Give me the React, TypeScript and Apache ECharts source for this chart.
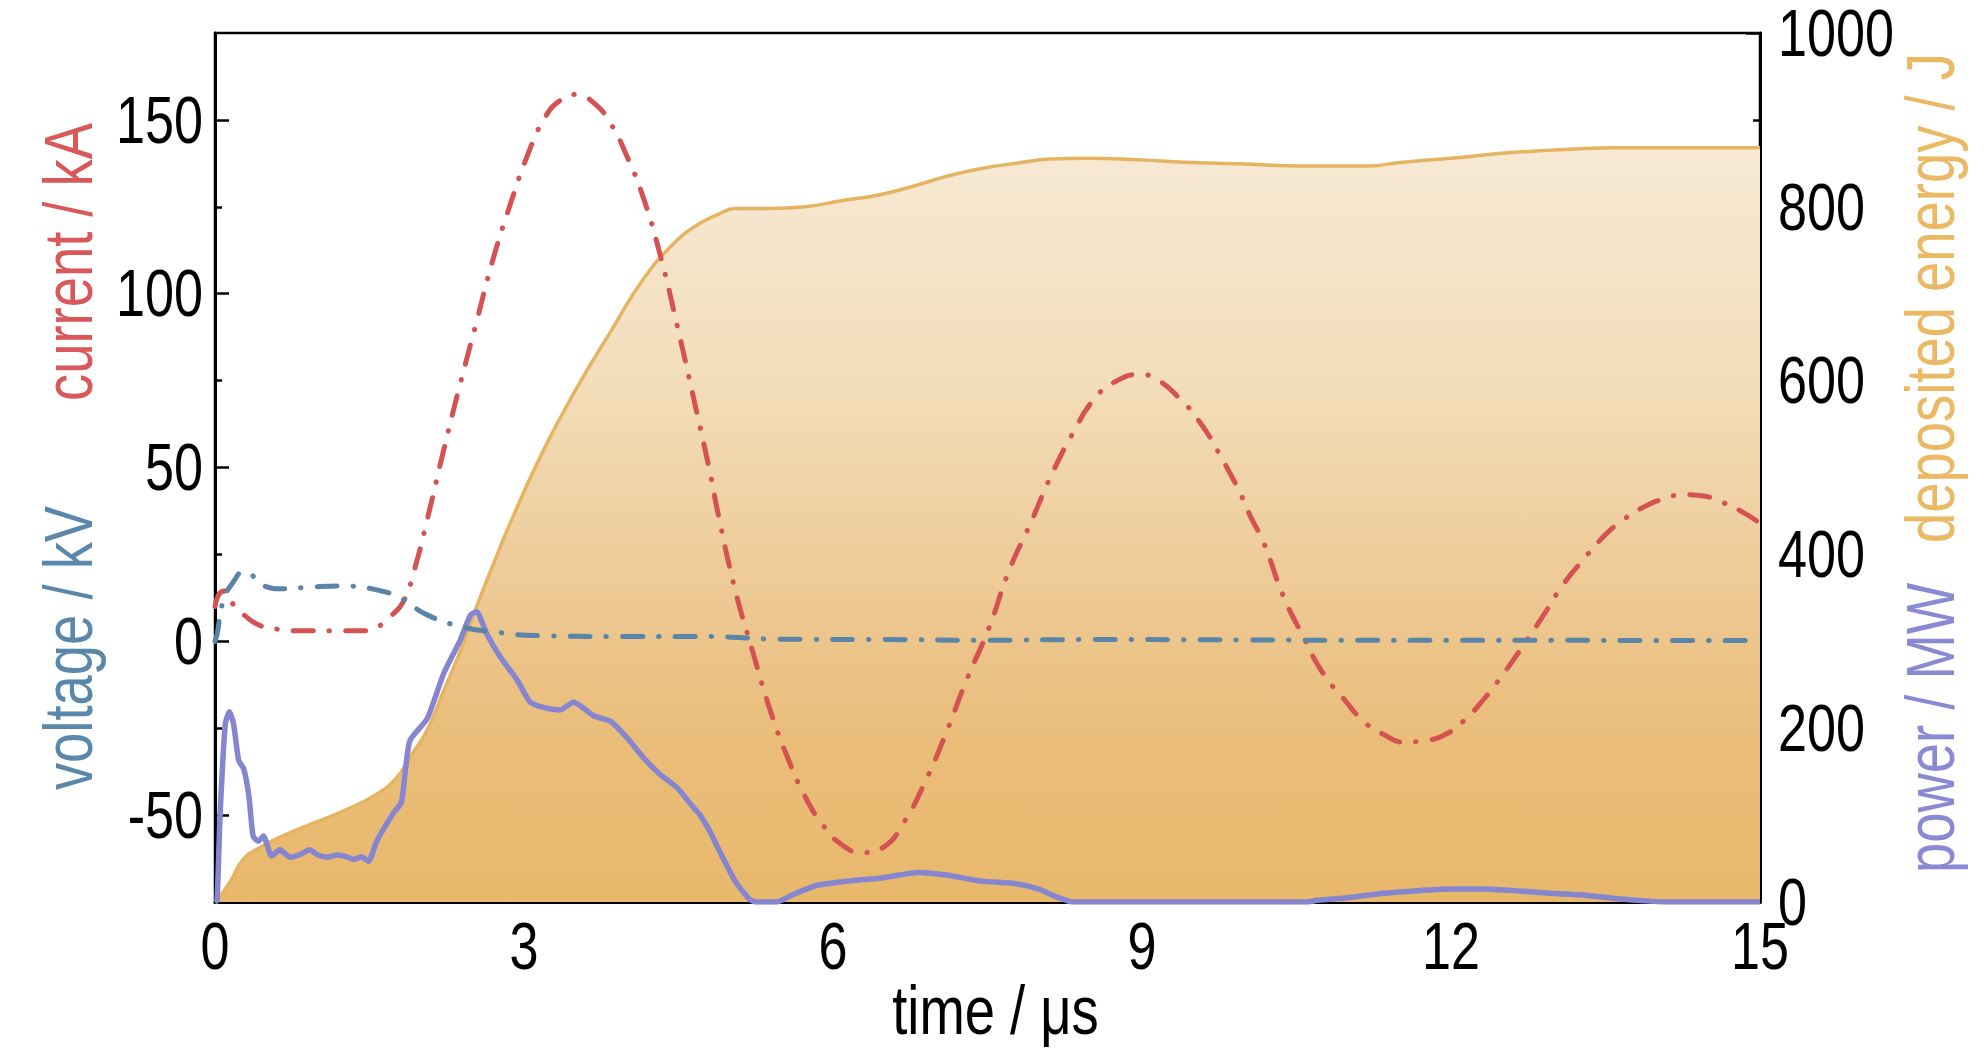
import React, { useEffect, useRef } from "react";
import * as echarts from "echarts";

// time / µs, current / kA
const currentData: [number, number][] = [
  [0, 10], [0.05, 14], [0.1, 14.5], [0.18, 10.5], [0.28, 7.6], [0.44, 4.5], [0.6, 3.5],
  [0.92, 3], [1.25, 3], [1.49, 3], [1.57, 3.9], [1.7, 7], [1.83, 11.5], [1.93, 20],
  [2.06, 35], [2.22, 55], [2.38, 74], [2.54, 92], [2.7, 110], [2.87, 126], [3.03, 139.5],
  [3.19, 150], [3.35, 155.6], [3.51, 157.3], [3.68, 154.8], [3.84, 149], [4.0, 139.5],
  [4.16, 127.5], [4.32, 111.4], [4.49, 90.5], [4.65, 69.5], [4.81, 48], [4.88, 37.3],
  [5.05, 14.8], [5.22, -2.9], [5.39, -19.8], [5.56, -33.5], [5.73, -44.7], [5.9, -52.8],
  [6.08, -58.4], [6.28, -60.8], [6.49, -59.2], [6.69, -52], [6.89, -40.7], [7.1, -26.2],
  [7.3, -10.9], [7.51, 3.5], [7.71, 20.4], [7.92, 34.1], [8.12, 47.8], [8.33, 59.9],
  [8.53, 69.5], [8.74, 74.7], [8.98, 76.8], [9.15, 75.2], [9.35, 70.3], [9.56, 63.1],
  [9.76, 53.4], [9.96, 42.2], [10.06, 35.5], [10.18, 28.5], [10.37, 13.2], [10.57, 1.1],
  [10.76, -9.3], [10.96, -16.6], [11.15, -23], [11.34, -26.7], [11.54, -29], [11.73, -28.6],
  [11.93, -27], [12.12, -23], [12.32, -16.6], [12.51, -9.3], [12.7, -1.3], [12.9, 7.6],
  [13.09, 16.4], [13.29, 23.7], [13.48, 30.1], [13.67, 34.9], [13.87, 38.6], [14.06, 40.9],
  [14.26, 42.2], [14.45, 41.8], [14.65, 39.8], [14.84, 37], [15, 34]
];

// time / µs, voltage / kV
const voltageData: [number, number][] = [
  [0, 0], [0.02, 2], [0.08, 11.6], [0.18, 17.2], [0.28, 20], [0.36, 19], [0.44, 16.4],
  [0.67, 15.1], [0.92, 15.6], [1.25, 15.9], [1.57, 14.8], [1.8, 12.4], [2.06, 7.6],
  [2.38, 4.3], [2.7, 2.7], [3.19, 1.6], [3.84, 1.4], [4.74, 1.4], [5.5, 0.6], [6.5, 0.5],
  [7.5, 0.3], [8.5, 0.5], [10, 0.4], [11, 0.3], [12, 0.3], [13, 0.3], [14, 0.2], [15, 0.2]
];

// time / µs, power / MW
const powerData: [number, number][] = [
  [0, 0], [0.02, 2], [0.05, 102], [0.1, 205], [0.14, 219], [0.18, 205], [0.23, 163],
  [0.28, 153], [0.33, 121], [0.37, 76], [0.42, 70], [0.47, 76], [0.55, 53], [0.63, 60],
  [0.73, 51.5], [0.83, 55], [0.92, 60], [1.0, 54], [1.09, 51.5], [1.18, 54], [1.25, 53],
  [1.35, 49], [1.42, 52], [1.49, 47], [1.57, 70], [1.73, 102], [1.81, 115], [1.89, 185],
  [2.06, 211], [2.22, 263], [2.38, 301], [2.48, 330], [2.54, 334], [2.64, 308], [2.77, 282],
  [2.93, 256], [3.06, 230], [3.19, 224], [3.35, 221], [3.48, 230], [3.68, 214], [3.84, 208],
  [4.0, 189], [4.16, 166], [4.32, 147], [4.49, 131], [4.65, 108], [4.71, 100], [4.81, 80],
  [4.88, 63], [5.05, 24], [5.19, 3], [5.25, 0], [5.45, 0], [5.6, 8], [5.84, 19], [6.14, 24],
  [6.49, 28], [6.83, 34], [7.1, 31], [7.44, 24], [7.78, 21], [7.99, 15], [8.19, 5], [8.33, 0],
  [10.6, 0], [10.7, 2], [11.0, 5], [11.35, 10], [11.67, 13], [12.0, 15], [12.31, 15],
  [12.63, 13], [12.96, 10], [13.28, 8], [13.6, 4], [13.93, 1], [14.1, 0], [15, 0]
];

// time / µs, deposited energy / J
const energyData: [number, number][] = [
  [0, 0], [0.02, 2], [0.15, 24], [0.28, 50], [0.44, 63], [0.6, 73], [0.92, 89], [1.25, 105],
  [1.57, 124], [1.77, 144], [1.89, 166], [2.06, 198], [2.22, 243], [2.38, 288], [2.54, 340],
  [2.7, 388], [2.87, 437], [3.19, 520], [3.51, 591], [3.84, 656], [4.16, 717], [4.49, 762],
  [4.71, 781], [4.88, 791], [5.05, 798], [5.39, 798], [5.73, 800], [6.08, 807], [6.42, 813],
  [6.76, 823], [7.1, 835], [7.44, 844], [7.78, 850], [8.12, 855], [8.46, 856], [8.98, 854],
  [9.49, 851], [10.06, 849], [10.54, 847], [11.19, 847], [11.51, 851], [12.0, 856],
  [12.65, 863], [13.3, 867], [13.6, 868], [15, 868]
];

const timeRange = [0, 15];
const leftRange = [-75, 175];
const rightRange = [0, 1000];
const timeTicks = [0, 3, 6, 9, 12, 15];
const leftMajorTicks = [-50, 0, 50, 100, 150];
const leftMinorTicks = [-25, 25, 75, 125];
const rightTicks = [0, 200, 400, 600, 800, 1000];

const FONT = "'Liberation Sans', Arial, sans-serif";
const NARROW = 0.79;

export default function App() {
  const ref = useRef<HTMLDivElement>(null);
  useEffect(() => {
    if (!ref.current) return;
    const chart = echarts.init(ref.current, null, { renderer: "svg" });
    const axisLine = { show: true, onZero: false, lineStyle: { color: "#000", width: 3 } };
    const tickStyle = { color: "#000", width: 2.5 };
    const dash = [20, 16, 0.5, 16];
    chart.setOption({
      animation: false,
      backgroundColor: "#fff",
      grid: {
        left: 215, right: 224, top: 33, bottom: 161,
        show: true, borderColor: "#000", borderWidth: 2.5, backgroundColor: "transparent"
      },
      xAxis: {
        type: "value", min: timeRange[0], max: timeRange[1], interval: 3,
        axisLine,
        axisTick: { inside: true, length: 14, lineStyle: tickStyle },
        minorTick: { show: true, splitNumber: 2, length: 7, lineStyle: tickStyle },
        axisLabel: { show: false },
        splitLine: { show: false }
      },
      yAxis: [
        {
          type: "value", position: "left", min: leftRange[0], max: leftRange[1], interval: 25,
          axisLine,
          axisTick: { inside: true, length: 14, lineStyle: tickStyle, customValues: leftMajorTicks },
          axisLabel: { show: false },
          splitLine: { show: false }
        },
        {
          type: "value", position: "right", min: rightRange[0], max: rightRange[1], interval: 200,
          axisLine,
          axisTick: { inside: true, length: 14, lineStyle: tickStyle },
          minorTick: { show: true, splitNumber: 2, length: 7, lineStyle: tickStyle },
          axisLabel: { show: false },
          splitLine: { show: false }
        },
        {
          type: "value", position: "left", min: leftRange[0], max: leftRange[1], interval: 25,
          axisLine: { show: false, onZero: false },
          axisTick: { inside: true, length: 7, lineStyle: tickStyle, customValues: leftMinorTicks },
          axisLabel: { show: false },
          splitLine: { show: false }
        }
      ],
      series: [
        {
          name: "energy", type: "line", yAxisIndex: 1, data: energyData, showSymbol: false,
          smooth: 0.5, z: 1,
          lineStyle: { color: "#e6b461", width: 3.5 },
          areaStyle: {
            opacity: 1,
            color: new echarts.graphic.LinearGradient(0, 0, 0, 1, [
              { offset: 0, color: "#f7e9d4" },
              { offset: 0.3, color: "#f3debb" },
              { offset: 0.55, color: "#eecc9a" },
              { offset: 0.78, color: "#eabd7a" },
              { offset: 1, color: "#e8b86b" }
            ])
          }
        },
        {
          name: "power", type: "line", yAxisIndex: 1, data: powerData, showSymbol: false,
          smooth: 0.2, z: 2,
          lineStyle: { color: "#8585d0", width: 5.5 }
        },
        {
          name: "current", type: "line", yAxisIndex: 0, data: currentData, showSymbol: false,
          smooth: 0.5, z: 3,
          lineStyle: { color: "#d45252", width: 5, type: dash, cap: "round" }
        },
        {
          name: "voltage", type: "line", yAxisIndex: 0, data: voltageData, showSymbol: false,
          smooth: 0.5, z: 4,
          lineStyle: { color: "#5a84a8", width: 5, type: dash, cap: "round" }
        }
      ]
    });

    const px = (v: number) => chart.convertToPixel({ xAxisIndex: 0 }, v) as number;
    const pyL = (v: number) => chart.convertToPixel({ yAxisIndex: 0 }, v) as number;
    const pyR = (v: number) => chart.convertToPixel({ yAxisIndex: 1 }, v) as number;
    const axisY = pyL(leftRange[0]);
    const leftX = px(timeRange[0]);
    const rightX = px(timeRange[1]);

    const label = (text: string, x: number, y: number, align: string) => ({
      type: "text", x, y, scaleX: NARROW, silent: true,
      style: { text, fontSize: 66, fontFamily: FONT, fill: "#000", align, verticalAlign: "middle" }
    });
    const title = (text: string, x: number, y: number, fill: string) => ({
      type: "text", x, y, rotation: Math.PI / 2, scaleX: 0.8, silent: true,
      style: { text, fontSize: 68, fontFamily: FONT, fill, align: "center", verticalAlign: "middle" }
    });

    const graphics: any[] = [
      ...timeTicks.map((v) => label(String(v), px(v), axisY + 44, "center")),
      ...leftMajorTicks.map((v) => label(String(v), leftX - 12, pyL(v), "right")),
      ...rightTicks.map((v) => label(String(v), rightX + 18, pyR(v), "left")),
      {
        type: "text", x: (leftX + rightX) / 2 + 8, y: axisY + 108, scaleX: 0.8, silent: true,
        style: { text: "time / μs", fontSize: 68, fontFamily: FONT, fill: "#000", align: "center", verticalAlign: "middle" }
      },
      title("current / kA", 68, 262, "#d9585a"),
      title("voltage / kV", 68, 648, "#5b87aa"),
      title("deposited energy / J", 1930, 298, "#ebb863"),
      title("power / MW", 1930, 728, "#8a8ad4")
    ];
    chart.setOption({ graphic: graphics });
    return () => chart.dispose();
  }, []);
  return (
    <div
      ref={ref}
      style={{ position: "fixed", left: 0, top: 0, width: 1984, height: 1063, background: "#fff" }}
    />
  );
}
